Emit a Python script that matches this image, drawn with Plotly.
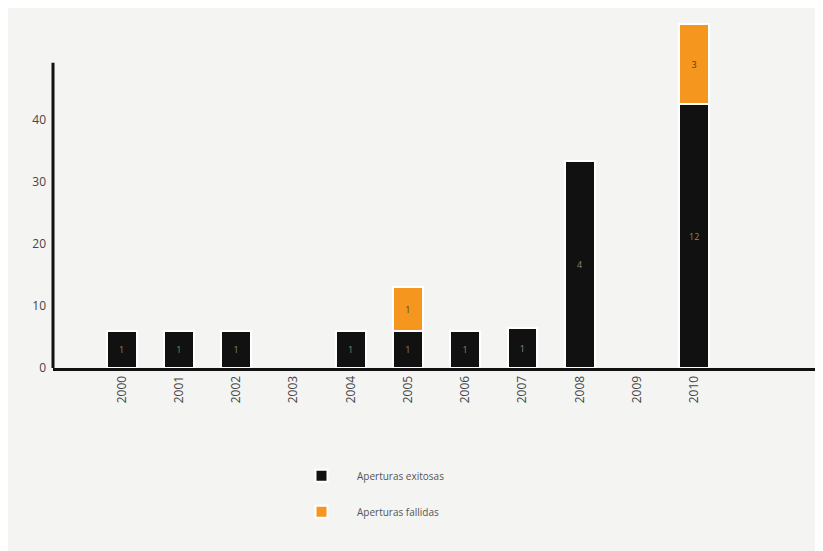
import plotly.graph_objects as go

years = ["2000", "2001", "2002", "2003", "2004", "2005", "2006", "2007", "2008", "2009", "2010"]
exitosas = [6, 6, 6, None, 6, 6, 6, 6.4, 33.4, None, 42.5]
exitosas_text = ["1", "1", "1", "", "1", "1", "1", "1", "4", "", "12"]
fallidas = [None, None, None, None, None, 7, None, None, None, None, 13]
fallidas_text = ["", "", "", "", "", "1", "", "", "", "", "3"]
y_ticks = [0, 10, 20, 30, 40]

fig = go.Figure()
fig.add_trace(go.Bar(
    x=years, y=exitosas, name="Aperturas exitosas",
    marker=dict(color="#111111", line=dict(color="#ffffff", width=2)),
    text=exitosas_text, textposition="inside", insidetextanchor="middle",
    textfont=dict(color="#8a8a6a", size=9, family="Open Sans"),
    width=0.52, legendgroup="a",
))
fig.add_trace(go.Bar(
    x=years, y=fallidas, name="Aperturas fallidas",
    marker=dict(color="#f5961f", line=dict(color="#ffffff", width=2)),
    text=fallidas_text, textposition="inside", insidetextanchor="middle",
    textfont=dict(color="#5a3a10", size=9, family="Open Sans"),
    width=0.52, legendgroup="b",
))

# y-axis line (drawn only up to the top of the axis as in the reference)
fig.add_shape(type="line", xref="paper", yref="y", x0=0, x1=0, y0=-0.2, y1=49.2,
              line=dict(color="#111111", width=3))

fig.update_layout(
    barmode="stack",
    width=823, height=551,
    margin=dict(l=45, r=8, t=12, b=191),
    paper_bgcolor="#f4f4f3", plot_bgcolor="#f4f4f3",
    font=dict(family="Open Sans", color="#444444"),
    xaxis=dict(
        type="category", range=[-1.2, 12.25],
        showline=True, linecolor="#111111", linewidth=3,
        showgrid=False, ticks="", tickangle=-90,
        tickfont=dict(size=12, color="#444444"),
    ),
    yaxis=dict(
        range=[0, 56.1], tickvals=y_ticks, showgrid=False, zeroline=False,
        showline=False, ticks="", ticklabelstandoff=6,
        tickfont=dict(size=12, color="#444444"),
    ),
    legend=dict(
        x=0.3026, y=-0.268, xanchor="left", yanchor="top",
        traceorder="grouped", tracegroupgap=17, itemwidth=61,
        font=dict(size=10, color="#555555"),
        bgcolor="rgba(0,0,0,0)",
    ),
    bargap=0.48,
)

fig.write_html("out.html")
